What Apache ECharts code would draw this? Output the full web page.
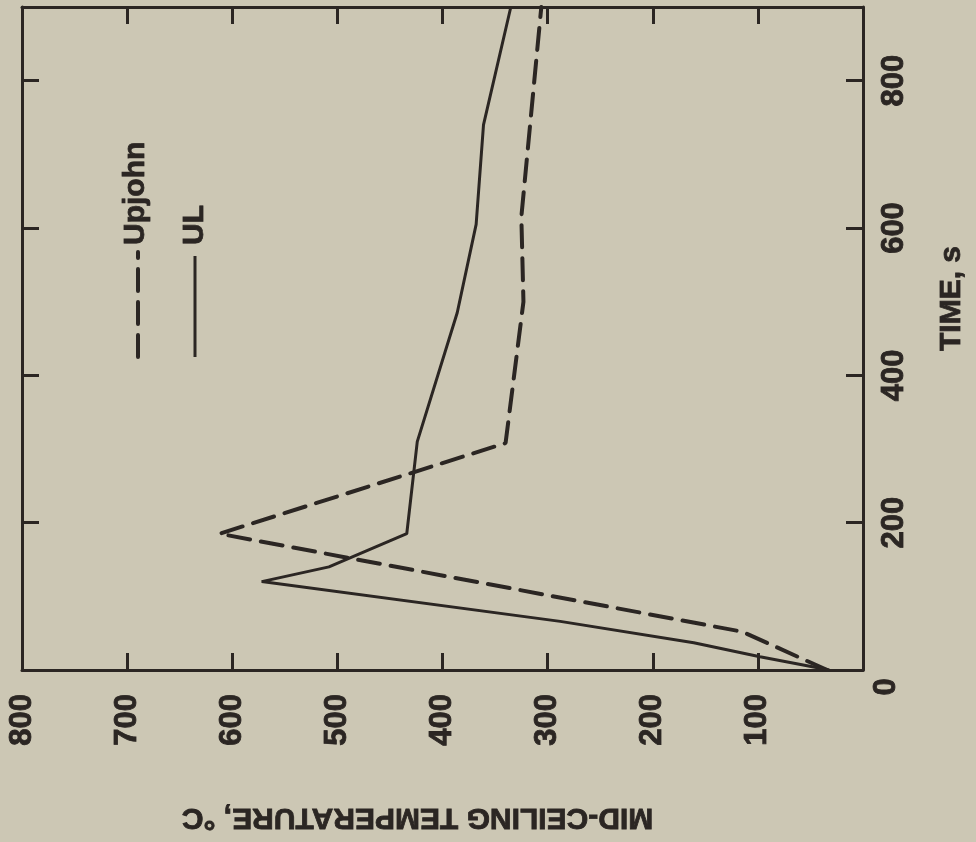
<!DOCTYPE html>
<html>
<head>
<meta charset="utf-8">
<script src="https://cdn.jsdelivr.net/npm/echarts@6/dist/echarts.min.js"></script>
<style>
  html, body { margin: 0; padding: 0; background: #ccc7b4; }
  #chart { width: 976px; height: 842px; }
</style>
</head>
<body>
<div id="chart"></div>
<script>
// Mid-ceiling temperature histories (time in s, temperature in °C)
const timeUL = [0, 18, 37, 66, 120, 140, 185, 310, 485, 605, 740, 900];
const tempUL = [32, 98, 161, 288, 572, 508, 434, 424, 386, 368, 361, 335];
const timeUpjohn = [0, 52, 185, 308, 500, 615, 900];
const tempUpjohn = [34, 115, 612, 340, 323, 325, 306];

const tempTicks = [0, 100, 200, 300, 400, 500, 600, 700, 800];
const timeTicks = [0, 200, 400, 600, 800];

const INK = '#2b2623';
const FONT = "'Liberation Sans', Arial, sans-serif";

function pairs(xs, ys) { return xs.map((t, i) => [ys[i], t]); }

const chart = echarts.init(document.getElementById('chart'), null, { renderer: 'canvas' });

const lineAxis = { show: true, onZero: false, lineStyle: { color: INK, width: 3 } };
const tickIn = { show: true, inside: true, length: 17, lineStyle: { color: INK, width: 3 } };
const heavy = { textBorderColor: INK, textBorderWidth: 0.8 };
const labelFont = Object.assign({ color: INK, fontFamily: FONT, fontWeight: 'bold', fontSize: 31 }, heavy);
const titleFont = Object.assign({ color: INK, fontFamily: FONT, fontWeight: 'bold', fontSize: 30 }, heavy);

chart.setOption({
  backgroundColor: '#ccc7b4',
  animation: false,
  grid: { left: 22, right: 113, top: 7, bottom: 172, outerBoundsMode: 'none' },
  xAxis: [
    {
      type: 'value', position: 'bottom', inverse: true,
      min: 0, max: 800, interval: 100,
      axisLine: lineAxis, axisTick: tickIn, splitLine: { show: false },
      axisLabel: Object.assign({
        rotate: 90, margin: 24,
        formatter: v => (tempTicks.includes(v) && v !== 0 ? String(v) : '')
      }, labelFont),
      name: 'MID-CEILING TEMPERATURE, °C',
      nameLocation: 'middle', nameGap: 132, nameRotate: 180,
      nameTextStyle: Object.assign({ padding: [0, 0, 0, 50] }, titleFont)
    },
    {
      type: 'value', position: 'top', inverse: true,
      min: 0, max: 800, interval: 100,
      axisLine: lineAxis, axisTick: tickIn, axisLabel: { show: false }, splitLine: { show: false }
    }
  ],
  yAxis: [
    {
      type: 'value', position: 'right',
      min: 0, max: 900, interval: 200,
      axisLine: lineAxis, axisTick: tickIn, splitLine: { show: false },
      axisLabel: Object.assign({
        rotate: 90, margin: 16,
        formatter: v => (timeTicks.includes(v) ? (v === 0 ? '{o|0}' : String(v)) : ''),
        rich: { o: Object.assign({ padding: [0, 34, 0, 0], lineHeight: 14 }, labelFont) }
      }, labelFont),
      name: 'TIME, s',
      nameLocation: 'middle', nameGap: 74, nameRotate: 90,
      nameTextStyle: Object.assign({ padding: [0, 0, 0, 80] }, titleFont)
    },
    {
      type: 'value', position: 'left',
      min: 0, max: 900, interval: 200,
      axisLine: lineAxis, axisTick: tickIn, axisLabel: { show: false }, splitLine: { show: false }
    }
  ],
  series: [
    {
      name: 'Upjohn', type: 'line', xAxisIndex: 0, yAxisIndex: 0,
      data: pairs(timeUpjohn, tempUpjohn),
      symbol: 'none',
      lineStyle: { color: INK, width: 4, type: [22, 11], cap: 'round' }
    },
    {
      name: 'UL', type: 'line', xAxisIndex: 0, yAxisIndex: 0,
      data: pairs(timeUL, tempUL),
      symbol: 'none',
      lineStyle: { color: INK, width: 3 }
    }
  ],
  graphic: [
    { type: 'line', shape: { x1: 138, y1: 357, x2: 138, y2: 252 },
      style: { stroke: INK, lineWidth: 4, lineDash: [22, 11], lineCap: 'round' } },
    { type: 'text', x: 136, y: 245, rotation: Math.PI / 2,
      style: { text: 'Upjohn', fill: INK, font: "bold 30px " + FONT, align: 'left', verticalAlign: 'middle',
               stroke: INK, lineWidth: 0.8 } },
    { type: 'line', shape: { x1: 195, y1: 357, x2: 195, y2: 256 },
      style: { stroke: INK, lineWidth: 3 } },
    { type: 'text', x: 195, y: 245, rotation: Math.PI / 2,
      style: { text: 'UL', fill: INK, font: "bold 30px " + FONT, align: 'left', verticalAlign: 'middle',
               stroke: INK, lineWidth: 0.8 } }
  ]
});
</script>
</body>
</html>
